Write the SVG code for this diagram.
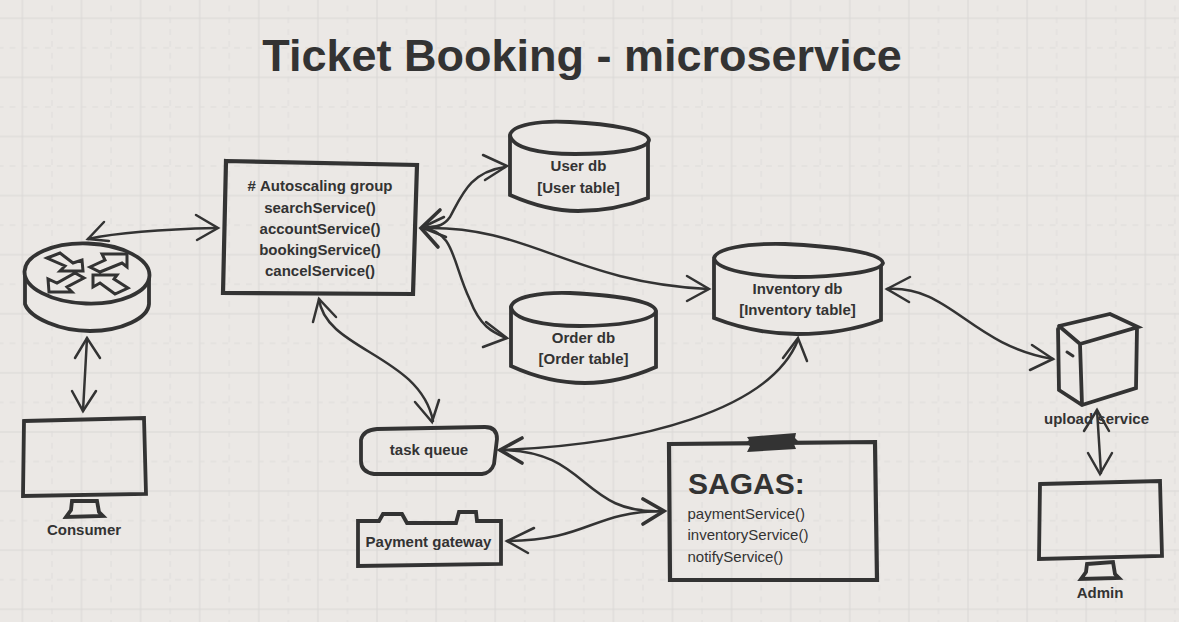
<svg xmlns="http://www.w3.org/2000/svg" width="1179" height="622" viewBox="0 0 1179 622">
<style>
.s{fill:none;stroke:#333;stroke-width:3.8;stroke-linejoin:miter;stroke-linecap:round}
.t{stroke-width:4.2}
.n{stroke-width:3}
.f{fill:#ebe8e5;stroke:#333;stroke-width:3.8;stroke-linejoin:miter;stroke-linecap:round}
.c{fill:none;stroke:#333;stroke-width:2.5;stroke-linecap:round;stroke-linejoin:miter}
.h{stroke-width:3.6}
text{font-family:"Liberation Sans",Arial,sans-serif;fill:#333;text-anchor:middle}
.b{font-size:15px;font-weight:700}
.r{font-size:15px;text-anchor:start}
</style>
<defs>
<pattern id="grid" width="59.1" height="59.1" patternUnits="userSpaceOnUse" x="21.4" y="17.3">
<path d="M1 0V59.1M0 1H59.1" fill="none" stroke="#dad8d6" stroke-width="1.1"/>
<path d="M30.55 0V59.1M0 30.55H59.1" fill="none" stroke="#dedcda" stroke-width="1" stroke-dasharray="5.900 5.920"/>
</pattern>
</defs>
<rect width="1179" height="622" fill="#ebe8e5"/>
<rect width="1179" height="622" fill="url(#grid)"/>
<text x="582" y="71" font-size="45" font-weight="700">Ticket Booking - microservice</text>

<g id="connectors" class="c">
<path d="M88 239C125 231 170 229 216 228"/><path d="M104 222L88 239L109 241M196 215L218 228L197 240"/>
<path d="M87 338L83 411"/><path d="M75 358L87 338L100 358M72 391L83 411L96 391"/>
<path d="M505 167C470 172 462 195 450 217C442 228 435 226 423 228"/><path d="M483 155L507 166L485 180"/><path class="h" d="M440 210L421 228L438 247"/><path d="M444 217L423 227M446 237L423 228"/>
<path d="M423 228C455 232 452 262 470 300C480 326 492 332 506 338"/><path d="M486 322L507 338L483 347"/>
<path d="M423 228C530 225 570 282 708 289"/><path d="M687 276L709 289L687 301"/>
<path d="M887 289C950 285 970 345 1053 359"/><path d="M910 277L887 289L909 302M1032 345L1053 359L1030 370"/>
<path d="M319 299C325 350 420 355 433 421"/><path d="M313 322L319 299L336 317M415 402L432 422L439 400"/>
<path d="M500 450C640 445 770 410 798 340"/><path d="M783 358L798 338L807 361"/><path class="h" d="M522 438L500 450L522 463"/>
<path d="M500 450C590 450 580 515 663 511"/><path class="h" d="M643 499L664 511L643 524"/>
<path d="M507 541C590 540 590 512 663 511"/><path d="M534 528L507 541L528 553"/>
<path d="M1097 410L1101 473"/><path d="M1084 431L1097 410L1109 431M1088 453L1100 474L1112 453"/>
</g>

<g id="router">
<path class="f" d="M25 275V304C30 318 60 331 90 331C122 331 148 318 149 304V277"/>
<ellipse class="f" cx="87" cy="273.500" rx="62.500" ry="30" transform="rotate(2 87 273.500)"/>
<path class="s n" d="M47 258L60 253L73 263L82 260L83 271L60 271L65 266ZM90 267L105 260L102 254L127 254L127 267L122 263L100 272ZM48 279L49 292L72 292L67 287L84 278L75 273L57 283ZM93 275L117 275L114 279L128 288L115 294L100 283L93 287Z"/>
</g>

<g id="autoscaling">
<path class="s t" d="M226 161L417 165L413 294L223 293Z"/>
<text class="b" x="320" y="191">#&#160;Autoscaling group</text>
<text class="b" x="320" y="213">searchService()</text>
<text class="b" x="320" y="234">accountService()</text>
<text class="b" x="320" y="255">bookingService()</text>
<text class="b" x="320" y="276">cancelService()</text>
</g>

<g id="user-db">
<path class="f" d="M510 136V195C535 206 555 211 578 211C605 211 630 205 648 198L648 141"/>
<path class="f" d="M510 135C512 125 540 120 570 122C610 124 648 130 649 140C648 150 610 154 575 154C540 154 512 148 510 135Z"/>
<text class="b" x="578.500" y="171">User db</text>
<text class="b" x="578.500" y="193">[User table]</text>
</g>

<g id="order-db">
<path class="f" d="M511 307V366C535 377 560 383 585 383C615 383 640 374 656 367V312"/>
<path class="f" d="M511 307C513 297 540 292 570 293C610 295 654 300 656 311C654 321 615 326 580 326C545 326 513 320 511 307Z"/>
<text class="b" x="583.500" y="343">Order db</text>
<text class="b" x="583.500" y="364">[Order table]</text>
</g>

<g id="inventory-db">
<path class="f" d="M714 260V318C745 330 770 334 797 334C830 334 860 328 881 320V264"/>
<path class="f" d="M714 258C716 249 745 243 785 244C830 246 881 252 883 263C881 272 835 277 795 277C755 277 716 270 714 258Z"/>
<text class="b" x="797.500" y="294">Inventory db</text>
<text class="b" x="797.500" y="315">[Inventory table]</text>
</g>

<g id="upload-service">
<path class="s" d="M1058 329L1059 390L1082 405L1136 388L1137 328M1059 326L1110 314L1138 327L1080 344L1059 326M1080 344L1082 405"/>
<path class="s n" d="M1067 352L1073 356"/>
<text class="b" x="1096.500" y="424">upload service</text>
</g>

<g id="consumer">
<path class="s" d="M24 421L144 418L146 494L23 496Z"/>
<path class="s" d="M72 501H97L99 512L103 516L66 517L71 510Z"/>
<text class="b" x="84" y="535">Consumer</text>
</g>

<g id="admin">
<path class="s" d="M1040 484L1160 481L1162 556L1039 559Z"/>
<path class="s" d="M1087 564L1113 562L1115 574L1119 578L1081 579L1086 572Z"/>
<text class="b" x="1100" y="598">Admin</text>
</g>

<g id="task-queue">
<path class="s" d="M377 429L485 427Q497 427 497 439L494 464Q491 473 482 474H374Q361 472 361 461V440Q363 430 377 429Z"/>
<text class="b" x="429" y="455">task queue</text>
</g>

<g id="payment-gateway">
<path class="s" d="M358 521L379 521L383 514H402L407 523H456L459 512H476L477 521L501 521V564L358 566Z"/>
<text class="b" x="428.500" y="547">Payment gateway</text>
</g>

<g id="sagas">
<path class="s t" d="M669 444L875 442L877 580L670 580Z"/>
<path fill="#333" d="M747 437L796 433L795 438L798 441L794 444L796 449L747 452L750 446L746 443L749 440Z"/>
<text x="688" y="494" font-size="30" font-weight="700" style="text-anchor:start">SAGAS:</text>
<text class="r" x="687.500" y="519">paymentService()</text>
<text class="r" x="687.500" y="540">inventoryService()</text>
<text class="r" x="687.500" y="562">notifyService()</text>
</g>
</svg>
